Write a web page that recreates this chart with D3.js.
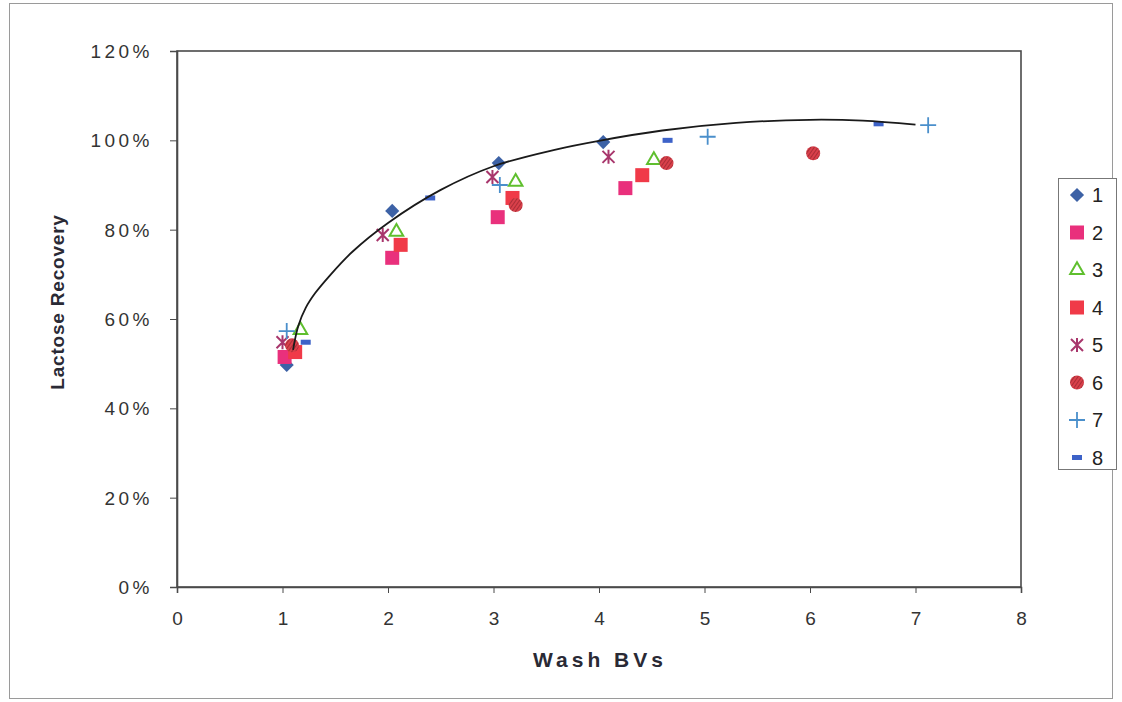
<!DOCTYPE html>
<html>
<head>
<meta charset="utf-8">
<script src="https://cdn.jsdelivr.net/npm/d3@7/dist/d3.min.js"></script>
<style>
  html, body { margin: 0; padding: 0; background: #fff; }
  svg { display: block; font-family: "Liberation Sans", Arial, sans-serif; }
</style>
</head>
<body>
<svg id="chart" width="1122" height="702"></svg>
<script>
// Wash bed volumes (x) and lactose recovery (fraction) for each run
const seriesNames = ["1", "2", "3", "4", "5", "6", "7", "8"];
const run1X = [1.04, 2.04, 3.05, 4.04];
const run1Y = [0.497, 0.842, 0.949, 0.996];
const run2X = [1.02, 2.04, 3.04, 4.25];
const run2Y = [0.515, 0.737, 0.828, 0.893];
const run3X = [1.17, 2.08, 3.21, 4.52];
const run3Y = [0.575, 0.795, 0.907, 0.956];
const run4X = [1.12, 2.12, 3.18, 4.41];
const run4Y = [0.526, 0.766, 0.871, 0.922];
const run5X = [1.00, 1.95, 2.99, 4.09];
const run5Y = [0.548, 0.788, 0.918, 0.963];
const run6X = [1.09, 3.21, 4.64, 6.03];
const run6Y = [0.541, 0.855, 0.949, 0.971];
const run7X = [1.04, 3.06, 5.03, 7.12];
const run7Y = [0.573, 0.900, 1.008, 1.034];
const run8X = [1.22, 2.40, 4.65, 6.65];
const run8Y = [0.548, 0.871, 1.000, 1.037];

// Fitted trend curve, sampled along its drawn path
const trendX = [1.10, 1.15, 1.22, 1.31, 1.44, 1.66, 2.00, 2.50, 3.00, 3.60, 4.00, 4.60, 5.30, 6.00, 6.50, 7.00];
const trendY = [0.531, 0.585, 0.625, 0.658, 0.695, 0.750, 0.815, 0.889, 0.942, 0.980, 0.999, 1.022, 1.039, 1.046, 1.044, 1.035];

const xTicks = [0, 1, 2, 3, 4, 5, 6, 7, 8];
const yTicks = [0, 0.2, 0.4, 0.6, 0.8, 1.0, 1.2];

const xs = [run1X, run2X, run3X, run4X, run5X, run6X, run7X, run8X];
const ys = [run1Y, run2Y, run3Y, run4Y, run5Y, run6Y, run7Y, run8Y];
const series = seriesNames.map((name, i) => ({
  name, points: xs[i].map((x, j) => ({ x, y: ys[i][j] }))
}));

const svg = d3.select("#chart");

// Outer chart frame
svg.append("rect")
  .attr("x", 9.5).attr("y", 3.5).attr("width", 1103).attr("height", 695)
  .attr("fill", "none").attr("stroke", "#9a9a9a").attr("stroke-width", 1);

const x = d3.scaleLinear().domain([0, 8]).range([177, 1021]);
const y = d3.scaleLinear().domain([0, 1.2]).range([587, 51]);

// Hatched fill for the round markers
const defs = svg.append("defs");
const pat = defs.append("pattern")
  .attr("id", "hatch").attr("patternUnits", "userSpaceOnUse")
  .attr("width", 3).attr("height", 3).attr("patternTransform", "rotate(35)");
pat.append("rect").attr("width", 3).attr("height", 3).attr("fill", "#d9404a");
pat.append("line").attr("x1", 0).attr("y1", 0).attr("x2", 0).attr("y2", 3)
  .attr("stroke", "#8a1f2a").attr("stroke-width", 1.2);

// Plot area border
svg.append("rect")
  .attr("x", x(0)).attr("y", y(1.2))
  .attr("width", x(8) - x(0)).attr("height", y(0) - y(1.2))
  .attr("fill", "none").attr("stroke", "#4a4a4a").attr("stroke-width", 1.6);

// Axes
const yAxis = d3.axisLeft(y).tickValues(yTicks).tickSize(7).tickPadding(0)
  .tickFormat(d3.format(".0%"));
const gy = svg.append("g").attr("transform", `translate(${x(0)},0)`).call(yAxis);
gy.select(".domain").attr("stroke", "#4a4a4a").attr("stroke-width", 1.6);
gy.selectAll(".tick line").attr("stroke", "#4a4a4a");
gy.selectAll(".tick text")
  .attr("x", -24).attr("dy", "0.35em")
  .attr("font-size", 19).attr("fill", "#333")
  .style("letter-spacing", "3.5px");

const xAxis = d3.axisBottom(x).tickValues(xTicks).tickSize(6).tickPadding(0)
  .tickFormat(d3.format("d"));
const gx = svg.append("g").attr("transform", `translate(0,${y(0)})`).call(xAxis);
gx.select(".domain").attr("stroke", "#4a4a4a").attr("stroke-width", 1.6);
gx.selectAll(".tick line").attr("stroke", "#4a4a4a");
gx.selectAll(".tick text")
  .attr("y", 38).attr("dy", 0)
  .attr("font-size", 19).attr("fill", "#333");

// Axis titles
svg.append("text")
  .attr("x", 600).attr("y", 667)
  .attr("text-anchor", "middle")
  .attr("font-size", 21).attr("font-weight", "bold").attr("fill", "#2a2a35")
  .style("letter-spacing", "4px")
  .text("Wash BVs");

svg.append("text")
  .attr("transform", "translate(64,302) rotate(-90)")
  .attr("text-anchor", "middle")
  .attr("font-size", 19).attr("font-weight", "bold").attr("fill", "#2a2a35")
  .style("letter-spacing", "0.8px")
  .text("Lactose Recovery");

// Marker drawers, one per series
const styles = [
  { draw: g => g.append("rect").attr("x", -5).attr("y", -5).attr("width", 10).attr("height", 10).attr("transform", "rotate(45)").attr("fill", "#3d62a6") },
  { draw: g => g.append("rect").attr("x", -7).attr("y", -7).attr("width", 14).attr("height", 14).attr("fill", "#e9307c") },
  { draw: g => g.append("path").attr("d", d3.symbol(d3.symbolTriangle, 80)()).attr("fill", "none").attr("stroke", "#5fbf2e").attr("stroke-width", 2) },
  { draw: g => g.append("rect").attr("x", -7).attr("y", -7).attr("width", 14).attr("height", 14).attr("fill", "#f03a48") },
  { draw: g => g.append("path").attr("d", "M-6,-6L6,6M-6,6L6,-6M0,-7L0,7").attr("stroke", "#a8366c").attr("stroke-width", 2).attr("fill", "none") },
  { draw: g => g.append("circle").attr("r", 7).attr("fill", "url(#hatch)") },
  { draw: g => g.append("path").attr("d", "M-8,0L8,0M0,-8L0,8").attr("stroke", "#4a8fcb").attr("stroke-width", 1.8).attr("fill", "none") },
  { draw: g => g.append("rect").attr("x", -5).attr("y", -2.5).attr("width", 10).attr("height", 5).attr("fill", "#3d62c8") }
];

const plot = svg.append("g");
series.forEach((s, i) => {
  const g = plot.append("g").attr("class", "series-" + s.name);
  s.points.forEach(p => {
    const m = g.append("g").attr("transform", `translate(${x(p.x)},${y(p.y)})`);
    styles[i].draw(m);
  });
});

// Trend curve drawn over the markers
const trend = trendX.map((v, i) => [v, trendY[i]]);
svg.append("path")
  .datum(trend)
  .attr("fill", "none").attr("stroke", "#1a1a1a").attr("stroke-width", 1.8)
  .attr("d", d3.line().x(d => x(d[0])).y(d => y(d[1])).curve(d3.curveCatmullRom.alpha(0.5)));

// Legend
const lg = svg.append("g");
lg.append("rect")
  .attr("x", 1058.5).attr("y", 178.5).attr("width", 58).attr("height", 291)
  .attr("fill", "#fff").attr("stroke", "#777").attr("stroke-width", 1);
series.forEach((s, i) => {
  const cy = 195 + i * 37.5;
  const m = lg.append("g").attr("transform", `translate(1077,${cy})`);
  styles[i].draw(m);
  lg.append("text")
    .attr("x", 1092).attr("y", cy).attr("dy", "0.35em")
    .attr("font-size", 20).attr("fill", "#222")
    .text(s.name);
});
</script>
</body>
</html>
